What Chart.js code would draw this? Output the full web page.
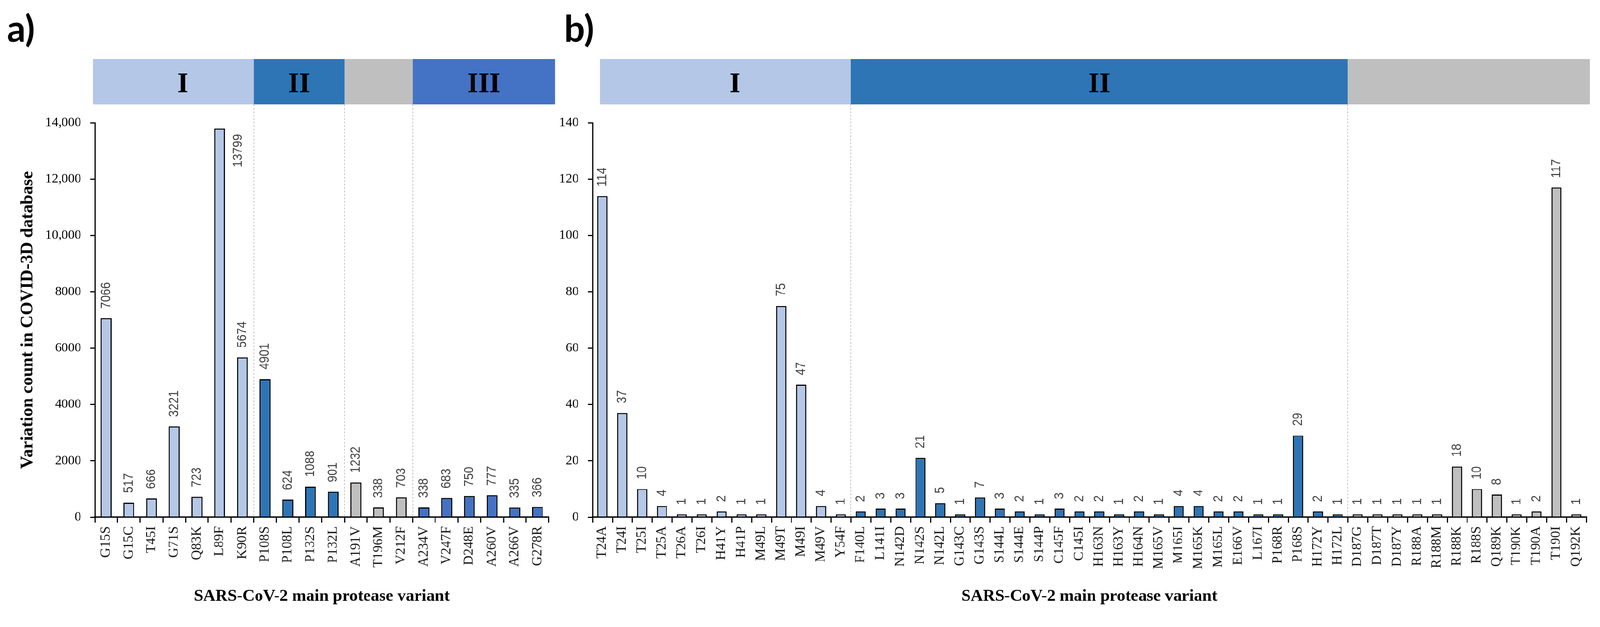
<!DOCTYPE html>
<html>
<head>
<meta charset="utf-8">
<script src="https://cdn.jsdelivr.net/npm/chart.js@4.4.1/dist/chart.umd.min.js"></script>
<style>
  html, body { margin: 0; padding: 0; background: #fff; overflow: hidden; }
  #stage { width: 4186px; height: 1604px; position: relative; transform-origin: 0 0; }
  canvas { position: absolute; top: 0; }
  #chartA { left: 0; }
  #chartB { left: 1440px; }
</style>
</head>
<body>
<div id="stage">
  <canvas id="chartA" width="1460" height="1604"></canvas>
  <canvas id="chartB" width="2746" height="1604"></canvas>
</div>
<script>
// panel a) - variants seen in COVID-3D
const variantsA = ["G15S", "G15C", "T45I", "G71S", "Q83K", "L89F", "K90R",
  "P108S", "P108L", "P132S", "P132L",
  "A191V", "T196M", "V212F",
  "A234V", "V247F", "D248E", "A260V", "A266V", "G278R"];
const countsA = [7066, 517, 666, 3221, 723, 13799, 5674,
  4901, 624, 1088, 901,
  1232, 338, 703,
  338, 683, 750, 777, 335, 366];
const groupNamesA = ["I", "II", "", "III"];
const groupSizesA = [7, 4, 3, 6];
const yTicksA = { max: 14000, step: 2000 };

// panel b) - rare variants
const variantsB = ["T24A", "T24I", "T25I", "T25A", "T26A", "T26I", "H41Y", "H41P", "M49L", "M49T", "M49I", "M49V", "Y54F",
  "F140L", "L141I", "N142D", "N142S", "N142L", "G143C", "G143S", "S144L", "S144E", "S144P", "C145F", "C145I",
  "H163N", "H163Y", "H164N", "M165V", "M165I", "M165K", "M165L", "E166V", "L167I", "P168R", "P168S", "H172Y", "H172L",
  "D187G", "D187T", "D187Y", "R188A", "R188M", "R188K", "R188S", "Q189K", "T190K", "T190A", "T190I", "Q192K"];
const countsB = [114, 37, 10, 4, 1, 1, 2, 1, 1, 75, 47, 4, 1,
  2, 3, 3, 21, 5, 1, 7, 3, 2, 1, 3, 2,
  2, 1, 2, 1, 4, 4, 2, 2, 1, 1, 29, 2, 1,
  1, 1, 1, 1, 1, 18, 10, 8, 1, 2, 117, 1];
const groupNamesB = ["I", "II", ""];
const groupSizesB = [13, 25, 12];
const yTicksB = { max: 140, step: 20 };

const groupColors = { I: "#B4C7E7", II: "#2E75B6", "": "#BFBFBF", III: "#4472C4" };
const serif = "'Liberation Serif', 'Times New Roman', serif";

// the drawing is laid out for 4186 px wide, fit it to the viewport we get
const stage = document.getElementById("stage");
const fit = window.innerWidth / 4186;
stage.style.transform = `scale(${fit})`;

const colorsFor = (names, sizes) =>
  names.flatMap((g, i) => Array(sizes[i]).fill(groupColors[g]));

// header band, dashed separators, value labels and panel letter
const decorPlugin = (letter, names, sizes, edgePad) => ({
  id: "decor",
  beforeDatasetsDraw(chart) {
    const { ctx, chartArea, scales } = chart;
    const x = scales.x;
    const step = (chartArea.right - chartArea.left) / x.ticks.length;
    const bandTop = 154, bandBottom = 273;
    let start = 0;
    ctx.save();
    names.forEach((g, i) => {
      let x0 = x.getPixelForValue(start) - step / 2;
      let x1 = x.getPixelForValue(start + sizes[i] - 1) + step / 2;
      if (i === 0) x0 += edgePad[0];
      if (i === names.length - 1) x1 += edgePad[1];
      ctx.fillStyle = groupColors[g];
      ctx.fillRect(x0, bandTop, x1 - x0, bandBottom - bandTop);
      if (g) {
        ctx.fillStyle = "#000";
        ctx.font = "bold 74px " + serif;
        ctx.textAlign = "center";
        ctx.textBaseline = "alphabetic";
        // the "I" labels sit a little right of centre in the original
        ctx.fillText(g, (x0 + x1) / 2 + (g === "I" ? 25 : 0), 241);
      }
      if (i > 0) {
        ctx.strokeStyle = "#C4C4C4";
        ctx.lineWidth = 2;
        ctx.setLineDash([5, 4]);
        ctx.beginPath();
        ctx.moveTo(Math.round(x0), bandBottom);
        ctx.lineTo(Math.round(x0), chartArea.bottom);
        ctx.stroke();
        ctx.setLineDash([]);
      }
      start += sizes[i];
    });
    ctx.restore();
  },
  afterDatasetsDraw(chart) {
    const { ctx, chartArea } = chart;
    const meta = chart.getDatasetMeta(0);
    const values = chart.data.datasets[0].data;
    ctx.save();
    ctx.font = "31px 'Liberation Sans', Arial, sans-serif";
    ctx.fillStyle = "#404040";
    ctx.textBaseline = "middle";
    meta.data.forEach((bar, i) => {
      const txt = String(values[i]);
      const w = ctx.measureText(txt).width;
      ctx.save();
      if (bar.y - 25 - w < chartArea.top) {
        // no room above: put it beside the bar
        ctx.translate(bar.x + 48, bar.y + 15);
        ctx.rotate(-Math.PI / 2);
        ctx.textAlign = "right";
      } else {
        ctx.translate(bar.x, bar.y - 25);
        ctx.rotate(-Math.PI / 2);
        ctx.textAlign = "left";
      }
      ctx.scale(1, 1.15); // glyphs are a bit wider across in the original
      ctx.fillText(txt, 0, 0);
      ctx.restore();
    });
    ctx.restore();
  },
  afterDraw(chart) {
    const { ctx } = chart;
    ctx.save();
    ctx.font = "bold 96px Lato, 'Liberation Sans', sans-serif";
    ctx.fillStyle = "#000";
    ctx.textAlign = "left";
    ctx.textBaseline = "alphabetic";
    ctx.fillText(letter, letter === "a)" ? 18 : 36, 109);
    ctx.restore();
  },
});

const makeChart = (id, labels, counts, names, sizes, yTicks, opts) => {
  const ctx = document.getElementById(id);
  return new Chart(ctx, {
    type: "bar",
    data: {
      labels: labels,
      datasets: [{
        data: counts,
        backgroundColor: colorsFor(names, sizes),
        borderColor: "#000",
        borderWidth: 3,
        barPercentage: opts.barPct,
        categoryPercentage: 1,
      }],
    },
    options: {
      responsive: false,
      animation: false,
      devicePixelRatio: 1,
      layout: { padding: { top: 321, right: opts.padRight, left: 0, bottom: 0 } },
      plugins: { legend: { display: false }, tooltip: { enabled: false } },
      scales: {
        x: {
          afterFit: (s) => { s.height = 252; },
          grid: { drawOnChartArea: false, drawTicks: true, tickLength: 14, color: "#000", lineWidth: 3 },
          border: { display: true, color: "#000", width: 3.5 },
          ticks: {
            autoSkip: false, minRotation: 90, maxRotation: 90, padding: 10,
            color: "#1a1a1a", font: { family: serif, size: 36 },
          },
          title: {
            display: true,
            text: "SARS-CoV-2 main protease variant",
            color: "#000",
            font: { family: serif, size: 44, weight: "bold" },
            padding: { top: 0, bottom: 18 },
          },
        },
        y: {
          min: 0,
          max: yTicks.max,
          afterFit: (s) => { s.width = opts.yWidth; },
          grid: { drawOnChartArea: false, drawTicks: true, tickLength: 12, color: "#000", lineWidth: 3 },
          border: { display: true, color: "#000", width: 3 },
          ticks: {
            stepSize: yTicks.step, padding: 24, color: "#000",
            font: { family: serif, size: 34 },
            callback: (v) => (v >= 10000 ? v.toLocaleString("en-US") : String(v)),
          },
          title: {
            display: opts.yTitle,
            text: "Variation count in COVID-3D database",
            color: "#000",
            font: { family: serif, size: 46, weight: "bold" },
            padding: { top: 46, bottom: 0 },
          },
        },
      },
    },
    plugins: [decorPlugin(opts.letter, names, sizes, opts.edgePad)],
  });
};

makeChart("chartA", variantsA, countsA, groupNamesA, groupSizesA, yTicksA,
  { letter: "a)", barPct: 0.48, padRight: 23, yWidth: 248, yTitle: true, edgePad: [-5, 16] });
makeChart("chartB", variantsB, countsB, groupNamesB, groupSizesB, yTicksB,
  { letter: "b)", barPct: 0.51, padRight: 36, yWidth: 110, yTitle: false, edgePad: [20, 9] });
</script>
</body>
</html>
